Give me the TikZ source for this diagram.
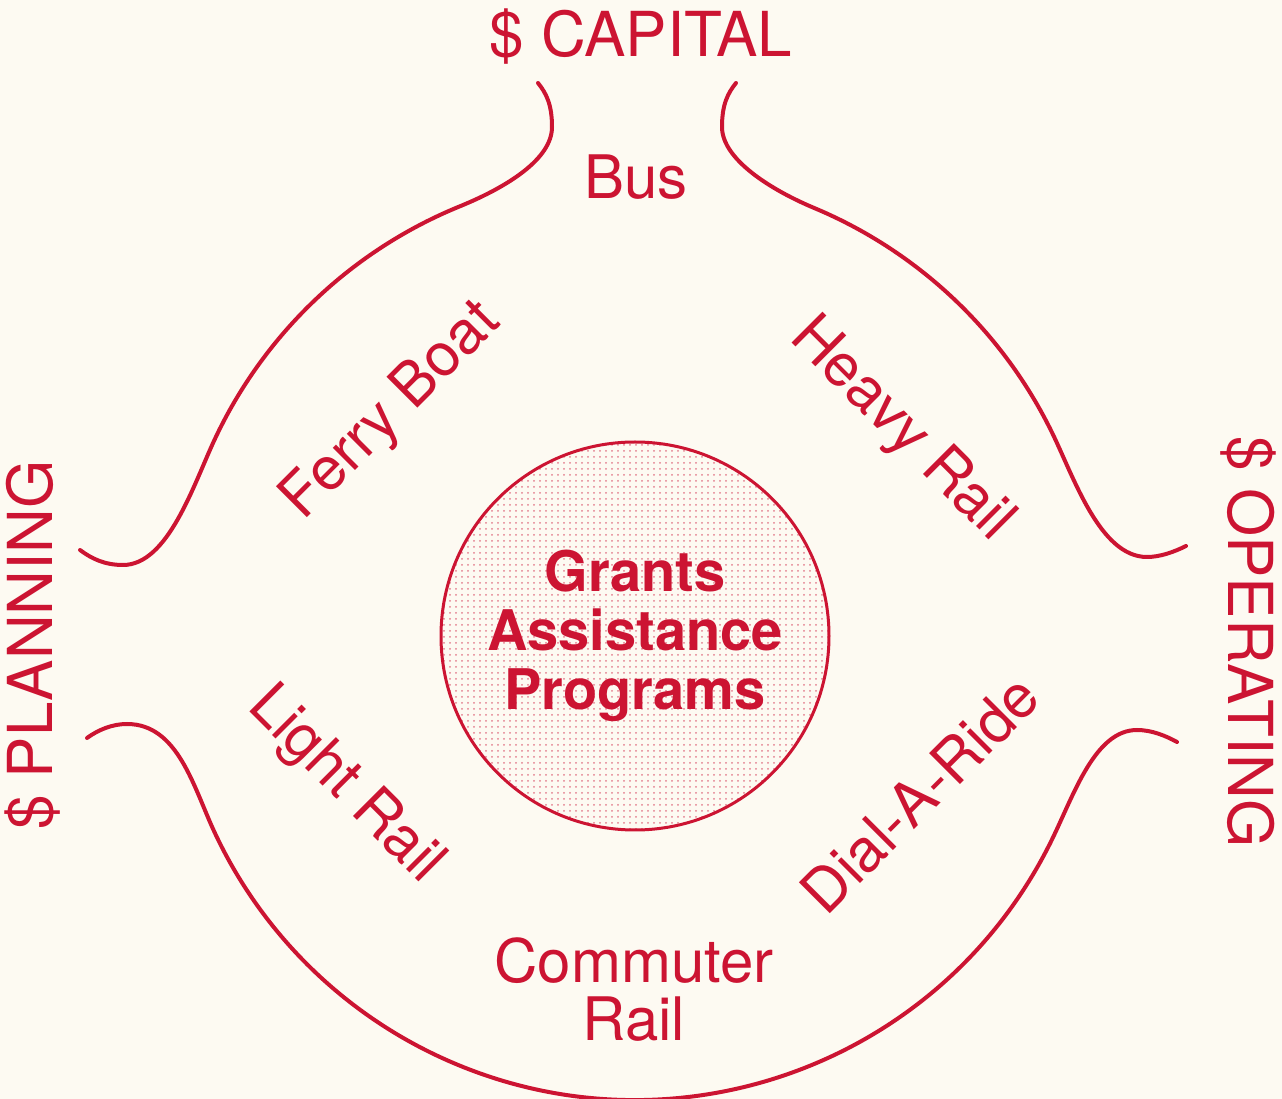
\documentclass[tikz,border=0pt]{standalone}
\usepackage{fontspec}
\setmainfont{TeX Gyre Heros}
\usetikzlibrary{patterns,positioning}
\definecolor{grantred}{RGB}{204,20,50}
\definecolor{paper}{RGB}{253,250,242}
\tikzset{
grants/.style={x=0.5pt,y=0.5pt},
rim/.style={draw=grantred,line width=2pt,line cap=round},
hub/.style={circle,draw=grantred,line width=1.5pt,minimum size=194pt,inner sep=0pt,
pattern=dots,pattern color=grantred!55,text=grantred,align=center,
font=\bfseries\fontsize{28}{29.5}\selectfont},
mode/.style={text=grantred,inner sep=0pt,align=center,
font=\fontsize{30}{29}\selectfont},
fund/.style={text=grantred,inner sep=0pt,font=\fontsize{31}{31}\selectfont},
}

\begin{document}
\begin{tikzpicture}[grants]
\useasboundingbox (0,0) rectangle (1282,1099);
\fill[paper] (0,0) rectangle (1282,1099);

\coordinate (C) at (635,463);
\path (C) ++(155:464) coordinate (lu);
\path (C) ++(112:464) coordinate (tl);
\path (C) ++(67:464) coordinate (tr);
\path (C) ++(26:464) coordinate (ru);
\path (C) ++(334:464) coordinate (rl);
\path (C) ++(205:464) coordinate (ll);

% outline with the three openings
\draw[rim] (80,549) .. controls (92,540) and (105,534) .. (123,534)
  .. controls (168,534) and +(-21,-45) .. (lu)
  arc[start angle=155,end angle=112,radius=464]
  .. controls +(46,19) and (552,940) .. (552,972)
  .. controls (552,995) and (546,1006) .. (538,1016);
\draw[rim] (736,1016) .. controls (728,1006) and (722,995) .. (722,972)
  .. controls (722,940) and +(-46,19) .. (tr)
  arc[start angle=67,end angle=26,radius=464]
  .. controls +(22,-45) and (1100,542) .. (1147,542)
  .. controls (1160,542) and (1174,547) .. (1186,553);
\draw[rim] (1177,357) .. controls (1166,363) and (1152,369) .. (1137,369)
  .. controls (1095,369) and +(22,45) .. (rl)
  arc[start angle=334,end angle=205,radius=464]
  .. controls +(-21,45) and (178,375) .. (127,375)
  .. controls (112,375) and (98,369) .. (87,361);

\node[hub] (hub) at (C) {Grants\\Assistance\\Programs};

\node[fund,anchor=base] (capital) at (641,1042) {\$ CAPITAL};
\node[fund,rotate=90] (planning) at (33,454) {\$ PLANNING};
\node[fund,rotate=-90] (operating) at (1248,457) {\$ OPERATING};

\node[mode,anchor=base] (bus) at (636,900) {Bus};
\node[mode,rotate=45] (ferry) at (392,687) {Ferry Boat};
\node[mode,rotate=-45] (heavy) at (901,669) {Heavy Rail};
\node[mode,rotate=-45] (light) at (345,313) {Light Rail};
\node[mode,rotate=45] (dial) at (920,305) {Dial-A-Ride};
\node[mode] (commuter) at (634,109) {Commuter\\Rail};
\end{tikzpicture}
\end{document}
